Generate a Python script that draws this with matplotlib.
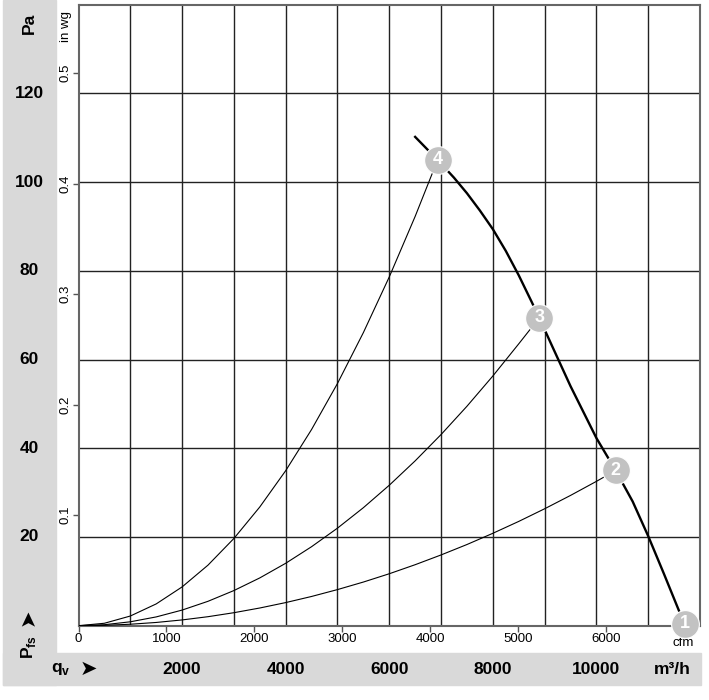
import matplotlib
matplotlib.use("Agg")
import matplotlib.pyplot as plt
import matplotlib.transforms as mtransforms
from matplotlib.patches import Rectangle

plt.rcParams['font.family'] = ['Liberation Sans', 'DejaVu Sans']

# fan curve (m3/h, Pa)
q_fan = [6500, 6934, 7250, 7500, 7750, 8000, 8250, 8500, 8750, 8896, 9166, 9500,
         10000, 10371, 10700, 11000, 11300, 11600, 11727]
pa_fan = [110.2, 105.0, 101.0, 97.5, 93.6, 89.4, 84.5, 79.0, 73.0, 69.4, 62.5, 54.0,
          42.3, 35.0, 28.0, 20.2, 11.8, 3.2, 0.4]

# system curves
q_sys4 = [0, 500, 1000, 1500, 2000, 2500, 3000, 3500, 4000, 4500, 5000, 5500, 6000, 6500, 6934]
pa_sys4 = [0, 0.55, 2.18, 4.91, 8.74, 13.65, 19.66, 26.76, 34.94, 44.23, 54.6, 66.07, 78.62, 92.27, 105.0]
q_sys3 = [0, 500, 1000, 1500, 2000, 2500, 3000, 3500, 4000, 4500, 5000, 5500, 6000, 6500, 7000, 7500, 8000, 8500, 8896]
pa_sys3 = [0, 0.22, 0.88, 1.98, 3.52, 5.5, 7.92, 10.77, 14.07, 17.81, 21.99, 26.6, 31.66, 37.16, 43.09, 49.47, 56.29, 63.54, 69.4]
q_sys2 = [0, 500, 1000, 1500, 2000, 2500, 3000, 3500, 4000, 4500, 5000, 5500, 6000, 6500, 7000, 7500, 8000, 8500, 9000, 9500, 10000, 10371]
pa_sys2 = [0, 0.08, 0.33, 0.73, 1.3, 2.03, 2.93, 3.99, 5.21, 6.59, 8.14, 9.84, 11.71, 13.75, 15.95, 18.3, 20.83, 23.51, 26.36, 29.37, 32.54, 35.0]

# operating points
op_labels = ['1', '2', '3', '4']
op_q = [11708, 10371, 8896, 6934]
op_pa = [0.4, 35.0, 69.4, 105.0]

pa_ticks = [20, 40, 60, 80, 100, 120]
m3h_ticks = [2000, 4000, 6000, 8000, 10000]
cfm_ticks = [0, 1000, 2000, 3000, 4000, 5000, 6000]
inwg_ticks = [0.1, 0.2, 0.3, 0.4, 0.5]

CFM = 1.699    # m3/h per cfm
INWG = 249.09  # Pa per in wg

W, H = 709, 700
fig = plt.figure(figsize=(W / 100, H / 100), dpi=100)

band = '#d9d9d9'
fig.patches.append(Rectangle((3 / W, 1 - 685 / H), 53 / W, 685 / H,
                             transform=fig.transFigure, color=band, zorder=0))
fig.patches.append(Rectangle((3 / W, 1 - 685 / H), 698 / W, 32 / H,
                             transform=fig.transFigure, color=band, zorder=0))

ax = fig.add_axes([78.5 / W, 1 - 625.7 / H, 621.5 / W, 621 / H])
ax.set_xlim(0, 12000)
ax.set_ylim(0, 140)

# grid
ax.set_xticks(range(1000, 12000, 1000), minor=True)
ax.set_yticks(pa_ticks, minor=True)
ax.grid(which='minor', color='#222222', linewidth=1.0)
ax.tick_params(which='minor', length=0)

# cfm on bottom, in wg on left
ax.set_xticks([c * CFM for c in cfm_ticks], [str(c) for c in cfm_ticks])
ax.set_yticks([w * INWG for w in inwg_ticks], [str(w) for w in inwg_ticks])
ax.tick_params(axis='x', which='major', length=4, width=1, color='#555555',
               labelsize=9.5, pad=1)
ax.tick_params(axis='y', which='major', length=4, width=1, color='#555555',
               labelsize=9.5, pad=1)
for lbl in ax.get_yticklabels():
    lbl.set_rotation(90)
    lbl.set_va('center')
for s in ax.spines.values():
    s.set_color('#666666')
    s.set_linewidth(1.5)

fig.text(72 / W, 1 - 27 / H, 'in wg', rotation=90, ha='right', va='center', fontsize=9.5)
ax.text(11670, -2.6, 'cfm', ha='center', va='top', fontsize=9.5, clip_on=False)

# curves
ax.plot(q_sys4, pa_sys4, color='black', lw=0.8, zorder=3)
ax.plot(q_sys3, pa_sys3, color='black', lw=0.8, zorder=3)
ax.plot(q_sys2, pa_sys2, color='black', lw=0.8, zorder=3)
ax.plot(q_fan, pa_fan, color='black', lw=1.7, zorder=4, clip_on=False)

ax.scatter(op_q, op_pa, s=400, color='#c2c2c2', edgecolor='white', linewidth=0.8,
           zorder=5, clip_on=False)
for lab, q, p in zip(op_labels, op_q, op_pa):
    ax.text(q, p, lab, color='white', fontsize=13, fontweight='bold',
            ha='center', va='center', zorder=6, clip_on=False)

# band labels
ty = mtransforms.blended_transform_factory(fig.transFigure, ax.transData)
for p in pa_ticks:
    fig.text(29 / W, p, str(p), transform=ty, ha='center', va='center',
             fontsize=12.5, fontweight='bold')
fig.text(29 / W, 1 - 23 / H, 'Pa', rotation=90, ha='center', va='center',
         fontsize=12.5, fontweight='bold')
fig.text(28 / W, 1 - 647 / H, r'P$_{\mathregular{fs}}$', rotation=90, ha='center',
         va='center', fontsize=12.5, fontweight='bold')
fig.text(28 / W, 1 - 617 / H, '➤', rotation=90, ha='center', va='center',
         fontsize=15, family='DejaVu Sans')

tx = mtransforms.blended_transform_factory(ax.transData, fig.transFigure)
for q in m3h_ticks:
    fig.text(q, 1 - 669 / H, str(q), transform=tx, ha='center', va='center',
             fontsize=12.5, fontweight='bold')
fig.text(672 / W, 1 - 669 / H, 'm³/h', ha='center', va='center',
         fontsize=12.5, fontweight='bold')
fig.text(61 / W, 1 - 669 / H, r'q$_{\mathregular{v}}$', ha='center', va='center',
         fontsize=12.5, fontweight='bold')
fig.text(88 / W, 1 - 669 / H, '➤', ha='center', va='center',
         fontsize=15, family='DejaVu Sans')

fig.savefig('out.png', dpi=100)
